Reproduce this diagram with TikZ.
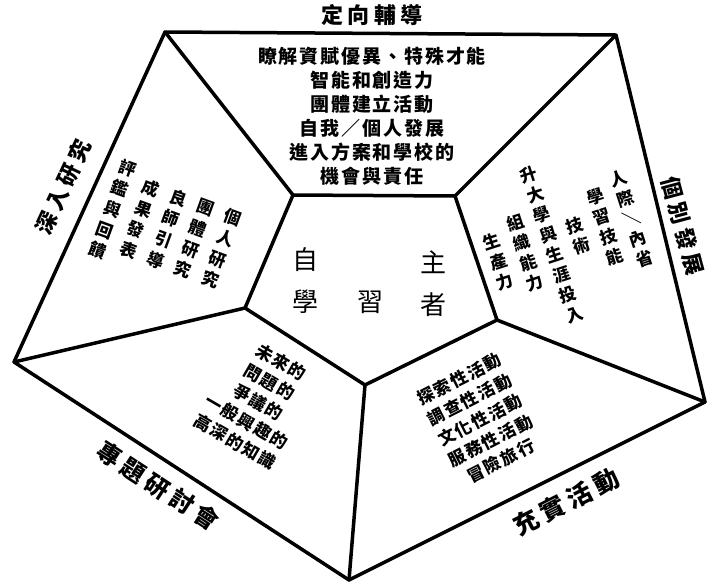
\documentclass[tikz,border=0pt]{standalone}
\usepackage{fontspec}
\newfontfamily\cjk{Noto Sans CJK TC}
\newfontfamily\cjks{Noto Sans CJK TC}[LetterSpace=10]
\newfontfamily\cjkl{Noto Sans CJK TC}[LetterSpace=20]
\begin{document}
\begin{tikzpicture}[x=1pt,y=-1pt,
  frame/.style={line width=3.5pt, line join=round, line cap=round},
  edgelabel/.style={font=\cjkl\bfseries\fontsize{22}{24}\selectfont, inner sep=0pt},
  body/.style={font=\cjks\bfseries\fontsize{17}{23}\selectfont, align=center, inner sep=0pt},
  vcol/.style={font=\cjk\bfseries\fontsize{17}{21}\selectfont, align=center, inner sep=0pt},
  hub/.style={font=\cjk\fontsize{26}{28}\selectfont, inner sep=0pt}]
\useasboundingbox (0,0) rectangle (709,587);
% outer pentagon
\coordinate (O1) at (165,32);
\coordinate (O2) at (616,35);
\coordinate (O3) at (705,402);
\coordinate (O4) at (349,580);
\coordinate (O5) at (14,362);
% inner pentagon
\coordinate (I1) at (293,195);
\coordinate (I2) at (455,196);
\coordinate (I3) at (497,320);
\coordinate (I4) at (365,385);
\coordinate (I5) at (245,308);
\draw[frame] (O1) -- (O2) -- (O3) -- (O4) -- (O5) -- cycle;
\draw[frame] (I1) -- (I2) -- (I3) -- (I4) -- (I5) -- cycle;
\draw[frame] (I1) -- (O1);
\draw[frame] (I2) -- (O2);
\draw[frame] (I3) -- (O3);
\draw[frame] (I4) -- (O4);
\draw[frame] (I5) -- (O5);
% edge labels
\node[edgelabel] (lt) at (372,15) {定向輔導};
\node[edgelabel, rotate=65] (ll) at (63,187) {深入研究};
\node[edgelabel, rotate=-75] (lr) at (683,226) {個別發展};
\node[edgelabel, rotate=-33, font=\cjkl\bfseries\fontsize{24}{26}\selectfont] (lbl) at (158,486) {專題研討會};
\node[edgelabel, rotate=27, font=\cjkl\bfseries\fontsize{25}{27}\selectfont] (lbr) at (566,502) {充實活動};
% hub
\node[hub] (h1) at (305,260) {自};
\node[hub] (h2) at (433,262) {主};
\node[hub] (h3) at (305,302) {學};
\node[hub] (h4) at (370,302) {習};
\node[hub] (h5) at (433,305) {者};
% top trapezoid
\node[body, font=\cjks\bfseries\fontsize{19}{24}\selectfont] (top) at (372,116) {瞭解資賦優異、特殊才能\\智能和創造力\\團體建立活動\\自我／個人發展\\進入方案和學校的\\機會與責任};
% right trapezoid (vertical columns)
\begin{scope}[shift={(565,240)}, rotate=18]
\node[vcol, rotate=18] (r1) at (70,0) {人\\際\\\rotatebox[origin=c]{90}{／}\\內\\省};
\node[vcol, rotate=18] (r2) at (42,0) {學\\習\\技\\能};
\node[vcol, rotate=18] (r3) at (14,0) {技\\術};
\node[vcol, rotate=18] (r4) at (-14,0) {升\\大\\學\\與\\生\\涯\\投\\入};
\node[vcol, rotate=18] (r5) at (-42,0) {組\\織\\能\\力};
\node[vcol, rotate=18] (r6) at (-70,0) {生\\產\\力};
\end{scope}
% left trapezoid (vertical columns)
\begin{scope}[shift={(167,229)}, rotate=-20]
\node[vcol, rotate=-20, font=\cjk\bfseries\fontsize{17}{22}\selectfont] (q1) at (58,0) {個\\人\\研\\究};
\node[vcol, rotate=-20, font=\cjk\bfseries\fontsize{17}{22}\selectfont] (q2) at (29,0) {團\\體\\研\\究};
\node[vcol, rotate=-20, font=\cjk\bfseries\fontsize{17}{22}\selectfont] (q3) at (0,0) {良\\師\\引\\導};
\node[vcol, rotate=-20, font=\cjk\bfseries\fontsize{17}{22}\selectfont] (q4) at (-29,0) {成\\果\\發\\表};
\node[vcol, rotate=-20, font=\cjk\bfseries\fontsize{17}{22}\selectfont] (q5) at (-58,0) {評\\鑑\\與\\回\\饋};
\end{scope}
% bottom-left trapezoid
\node[body, rotate=-30] (bl) at (258,402) {未來的\\問題的\\爭議的\\一般興趣的\\高深的知識};
% bottom-right trapezoid
\node[body, rotate=27] (br) at (480,420) {探索性活動\\調查性活動\\文化性活動\\服務性活動\\冒險旅行};
\end{tikzpicture}
\end{document}
